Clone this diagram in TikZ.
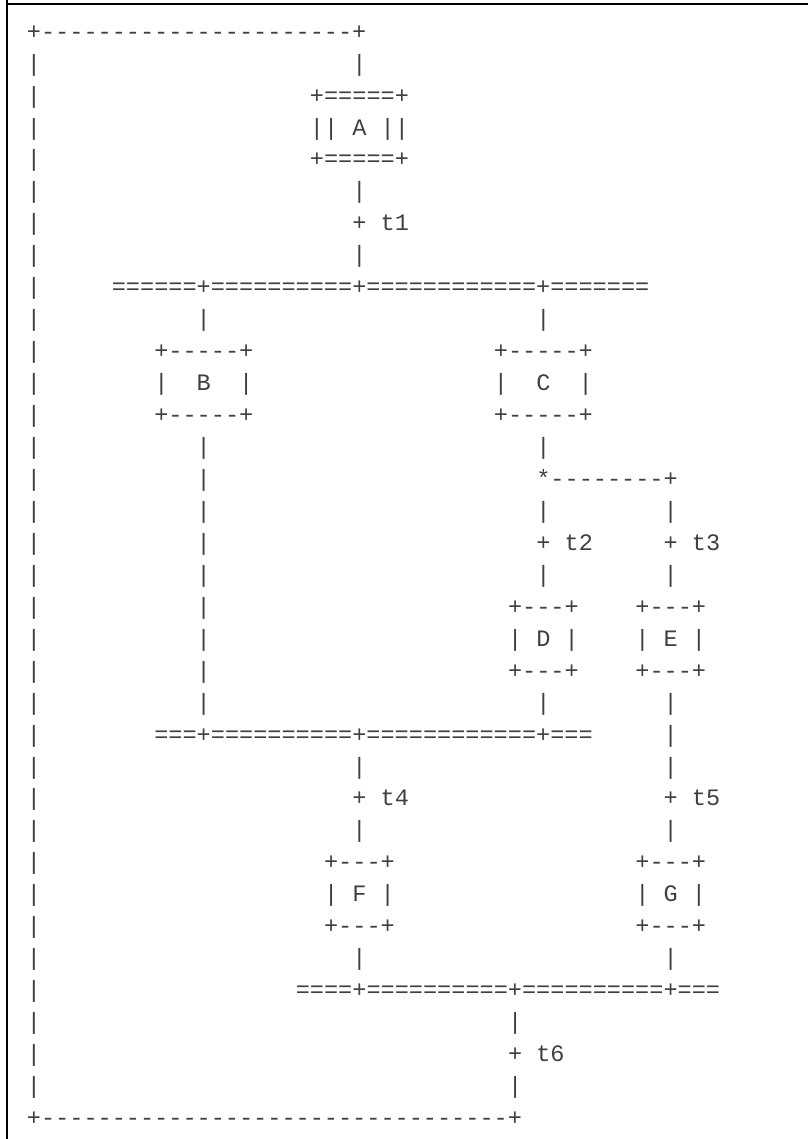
\documentclass[tikz,border=0pt]{standalone}
\usepackage{fontspec}
\setmonofont{Liberation Mono}
\definecolor{asciigray}{gray}{0.25}
\tikzset{
  asc/.style={anchor=base west, inner sep=0pt, outer sep=0pt,
    font=\ttfamily\fontsize{17.68pt}{20pt}\selectfont, text=asciigray},
  frameline/.style={fill=black}
}
\newcommand\seg[4]{\node[asc] (#1) at ({26.93+14.15*(#2)},{135+((#3)-4)*31.95}) {#4};}
\begin{document}
\begin{tikzpicture}[x=0.75pt,y=-0.75pt]
\useasboundingbox (0,0) rectangle (808,1139);
\fill[white] (0,0) rectangle (808,1139);
\fill[frameline] (5.8,0) rectangle (8.2,1139);
\fill[frameline] (5.8,3) rectangle (808,5);
% left column
\foreach \k in {2,...,34} {\seg{v\k}{0}{\k}{|}}
% line 1
\seg{top}{0}{1}{+----------------------+}
\seg{a2}{23}{2}{|}
\seg{Atop}{20}{3}{+=====+}
\seg{A}{20}{4}{||~A~||}
\seg{Abot}{20}{5}{+=====+}
\seg{a6}{23}{6}{|}
\seg{t1}{23}{7}{+~t1}
\seg{a8}{23}{8}{|}
\seg{bus1}{6}{9}{======+==========+============+=======}
\seg{b10}{12}{10}{|}
\seg{c10}{36}{10}{|}
\seg{Btop}{9}{11}{+-----+}
\seg{Ctop}{33}{11}{+-----+}
\seg{B}{9}{12}{|~~B~~|}
\seg{C}{33}{12}{|~~C~~|}
\seg{Bbot}{9}{13}{+-----+}
\seg{Cbot}{33}{13}{+-----+}
\seg{b14}{12}{14}{|}
\seg{c14}{36}{14}{|}
\seg{b15}{12}{15}{|}
\seg{split}{36}{15}{*--------+}
\seg{b16}{12}{16}{|}
\seg{d16}{36}{16}{|}
\seg{e16}{45}{16}{|}
\seg{b17}{12}{17}{|}
\seg{t2}{36}{17}{+~t2}
\seg{t3}{45}{17}{+~t3}
\seg{b18}{12}{18}{|}
\seg{d18}{36}{18}{|}
\seg{e18}{45}{18}{|}
\seg{b19}{12}{19}{|}
\seg{Dtop}{34}{19}{+---+}
\seg{Etop}{43}{19}{+---+}
\seg{b20}{12}{20}{|}
\seg{D}{34}{20}{|~D~|}
\seg{E}{43}{20}{|~E~|}
\seg{b21}{12}{21}{|}
\seg{Dbot}{34}{21}{+---+}
\seg{Ebot}{43}{21}{+---+}
\seg{b22}{12}{22}{|}
\seg{d22}{36}{22}{|}
\seg{e22}{45}{22}{|}
\seg{bus2}{9}{23}{===+==========+============+===}
\seg{e23}{45}{23}{|}
\seg{f24}{23}{24}{|}
\seg{g24}{45}{24}{|}
\seg{t4}{23}{25}{+~t4}
\seg{t5}{45}{25}{+~t5}
\seg{f26}{23}{26}{|}
\seg{g26}{45}{26}{|}
\seg{Ftop}{21}{27}{+---+}
\seg{Gtop}{43}{27}{+---+}
\seg{F}{21}{28}{|~F~|}
\seg{G}{43}{28}{|~G~|}
\seg{Fbot}{21}{29}{+---+}
\seg{Gbot}{43}{29}{+---+}
\seg{f30}{23}{30}{|}
\seg{g30}{45}{30}{|}
\seg{bus3}{19}{31}{====+==========+==========+===}
\seg{h32}{34}{32}{|}
\seg{t6}{34}{33}{+~t6}
\seg{h34}{34}{34}{|}
\seg{bottom}{0}{35}{+---------------------------------+}
\end{tikzpicture}
\end{document}
